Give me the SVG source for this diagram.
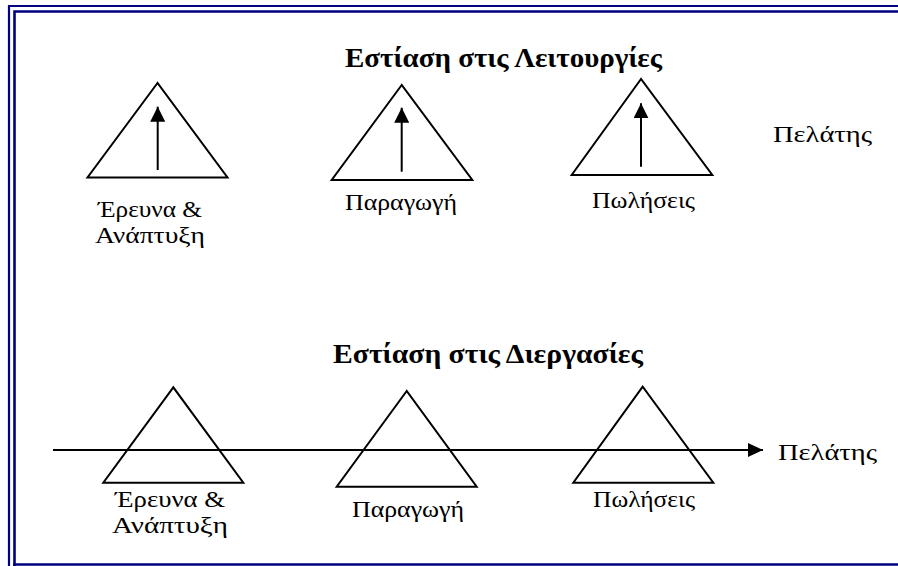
<svg xmlns="http://www.w3.org/2000/svg" width="898" height="566" viewBox="0 0 898 566">
<style>
.frame{stroke:#000080;fill:none}
.tri{fill:none;stroke:#000;stroke-width:2}
.ln{stroke:#000;stroke-width:2;fill:none}
.lbl{font-family:"Liberation Serif","DejaVu Serif",serif;font-size:24px;fill:#000}
.ttl{font-family:"Liberation Serif","DejaVu Serif",serif;font-size:28px;font-weight:bold;fill:#000}
</style>
<defs>
<marker id="ah" viewBox="0 0 15 15" refX="15" refY="7.5" markerWidth="15" markerHeight="15" markerUnits="userSpaceOnUse" orient="auto">
<path d="M0,0 L15,7.5 L0,15 Z" fill="#000"/>
</marker>
<marker id="ah2" viewBox="0 0 15 14" refX="15" refY="7" markerWidth="15" markerHeight="14" markerUnits="userSpaceOnUse" orient="auto">
<path d="M0,0 L15,7 L0,14 Z" fill="#000"/>
</marker>
</defs>
<g id="frame">
<path class="frame" stroke-width="2.2" d="M9,566 V6 H898"/>
<path class="frame" stroke-width="2.6" d="M14.5,566 V11.5 H898"/>
<path class="frame" stroke-width="2.6" d="M13,564.5 H898"/>
</g>
<g id="title-top"><text class="ttl" x="345" y="67" textLength="317" lengthAdjust="spacingAndGlyphs">Εστίαση στις Λειτουργίες</text></g>
<g id="title-bottom"><text class="ttl" x="333" y="363" textLength="310" lengthAdjust="spacingAndGlyphs">Εστίαση στις Διεργασίες</text></g>
<g id="top-rd">
<polygon class="tri" points="157.5,83 87.5,177.5 227.5,177.5"/>
<text class="lbl" x="98" y="217" textLength="104" lengthAdjust="spacingAndGlyphs">Έρευνα &amp;</text>
<text class="lbl" x="95" y="243" textLength="110" lengthAdjust="spacingAndGlyphs">Ανάπτυξη</text>
</g>
<g id="top-prod">
<polygon class="tri" points="401.7,85 331.7,180 472.3,180"/>
<text class="lbl" x="345" y="210" textLength="112" lengthAdjust="spacingAndGlyphs">Παραγωγή</text>
</g>
<g id="top-sales">
<polygon class="tri" points="641,79 571.7,175 712.3,175"/>
<text class="lbl" x="592" y="208" textLength="103" lengthAdjust="spacingAndGlyphs">Πωλήσεις</text>
</g>
<g id="top-customer"><text class="lbl" x="773" y="142" textLength="99" lengthAdjust="spacingAndGlyphs">Πελάτης</text></g>
<g id="bot-rd">
<polygon class="tri" points="173.3,387.3 103.3,482.7 243.3,482.7"/>
<text class="lbl" x="115" y="507" textLength="110" lengthAdjust="spacingAndGlyphs">Έρευνα &amp;</text>
<text class="lbl" x="112" y="533" textLength="116" lengthAdjust="spacingAndGlyphs">Ανάπτυξη</text>
</g>
<g id="bot-prod">
<polygon class="tri" points="406.7,391 336.7,486.7 476.7,486.7"/>
<text class="lbl" x="352" y="517" textLength="112" lengthAdjust="spacingAndGlyphs">Παραγωγή</text>
</g>
<g id="bot-sales">
<polygon class="tri" points="642.7,386.7 573.3,482.7 713.3,482.7"/>
<text class="lbl" x="593" y="507" textLength="102" lengthAdjust="spacingAndGlyphs">Πωλήσεις</text>
</g>
<g id="bot-customer"><text class="lbl" x="778" y="460" textLength="99" lengthAdjust="spacingAndGlyphs">Πελάτης</text></g>
<g id="connectors">
<line class="ln" x1="157.7" y1="170" x2="157.7" y2="106.7" marker-end="url(#ah)"/>
<line class="ln" x1="401.7" y1="171.7" x2="401.7" y2="107.7" marker-end="url(#ah)"/>
<line class="ln" x1="641" y1="166.7" x2="641" y2="103.3" marker-end="url(#ah)"/>
<line class="ln" x1="53" y1="450" x2="763" y2="450" marker-end="url(#ah2)"/>
</g>
</svg>
